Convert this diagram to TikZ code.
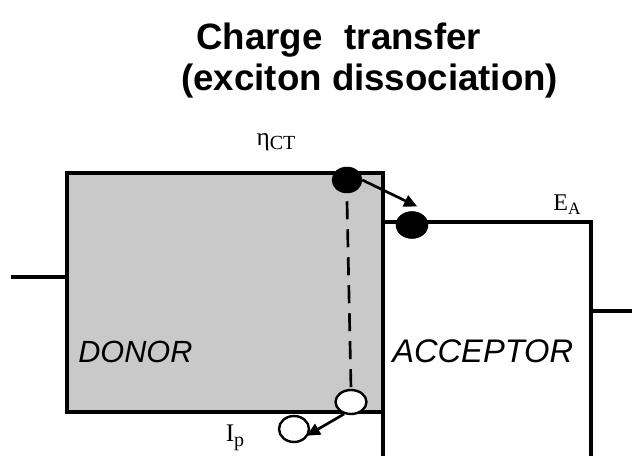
\documentclass[tikz,border=0pt]{standalone}
\usepackage{fontspec}
\setmainfont{Liberation Serif}
\newfontfamily\arialfont{Liberation Sans}
\usetikzlibrary{shapes.geometric,arrows.meta}
\definecolor{donorgray}{RGB}{201,201,201}
\begin{document}
\begin{tikzpicture}[x=0.75pt,y=-0.75pt,
  level/.style={line width=2.6pt,line cap=rect},
  filledpt/.style={ellipse,fill=black,draw=black,inner sep=0pt},
  openpt/.style={ellipse,fill=white,draw=black,line width=1.8pt,inner sep=0pt},
  transfer/.style={line width=2pt,-{Triangle[length=10pt,width=9pt]}},
  titletext/.style={font=\arialfont\bfseries\fontsize{27.5}{30}\selectfont,inner sep=0pt,anchor=base west},
  boxlabel/.style={inner sep=0pt,anchor=base west},
  levellabel/.style={inner sep=0pt}]
\useasboundingbox (0,0) rectangle (632,456);
% title
\node[titletext] (t1) at (196,50) {Charge\hspace{0.6em}transfer};
\node[titletext] (t2) at (181,91) {(exciton dissociation)};
% donor box
\fill[donorgray] (67,173) rectangle (383,412);
\draw[level] (13,277) -- (67,277);
\draw[level] (383,456) -- (383,173) -- (67,173) -- (67,412) -- (383,412);
% acceptor
\draw[level] (383,222) -- (591,222) -- (591,456);
\draw[level] (591,311) -- (632,311);
% labels
\node[boxlabel,font=\arialfont\itshape\fontsize{23}{25}\selectfont] (don) at (78,362) {DONOR};
\node[boxlabel,font=\arialfont\itshape\fontsize{24.5}{26}\selectfont] (acc) at (392,362) {ACCEPTOR};
\node[levellabel] (eta) at (276,142) {{\fontsize{19}{19}\selectfont η}{\fontsize{15}{15}\selectfont\raisebox{-3pt}{CT}}};
\node[levellabel] (ea) at (567,205) {{\fontsize{18}{18}\selectfont E}{\fontsize{13}{13}\selectfont\raisebox{-3pt}{A}}};
\node[levellabel] (ip) at (235,438) {{\fontsize{19}{19}\selectfont I}{\fontsize{15}{15}\selectfont\raisebox{-3.5pt}{p}}};
% charges
\node[filledpt,minimum width=30*0.75pt,minimum height=26*0.75pt] (e1) at (347,180) {};
\node[filledpt,minimum width=32*0.75pt,minimum height=27*0.75pt] (e2) at (412,225) {};
\node[openpt,minimum width=31*0.75pt,minimum height=24*0.75pt] (h1) at (351,402) {};
\node[openpt,minimum width=30*0.75pt,minimum height=26*0.75pt] (h2) at (294,429) {};
% dashed link
\draw[line width=2pt,dash pattern=on 13.5pt off 7.5pt] ([yshift=-6pt]e1.south) -- (h1.north);
% transfers
\draw[transfer] (e1.east) -- ([xshift=4pt,yshift=3.5pt]e2.north);
\draw[transfer,shorten >=-2pt] (h1.240) -- (h2.-20);
\end{tikzpicture}
\end{document}
